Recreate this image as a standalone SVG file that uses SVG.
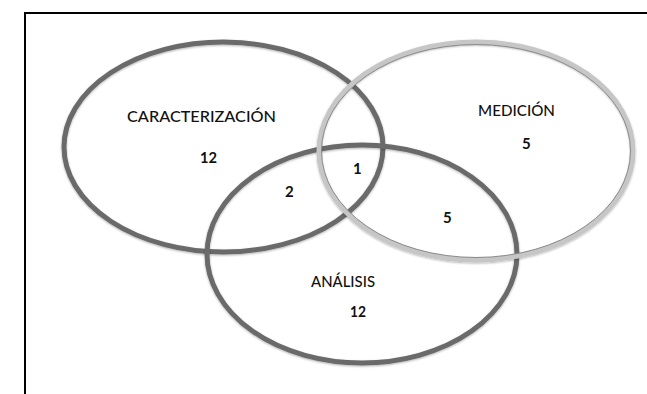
<svg xmlns="http://www.w3.org/2000/svg" width="647" height="394" viewBox="0 0 647 394">
<defs>
<style>
.lbl{font-family:Lato,"Liberation Sans",sans-serif;font-size:15px;font-weight:500;fill:#111;}
.num{font-family:Lato,"Liberation Sans",sans-serif;font-size:15px;font-weight:bold;fill:#111;}
.dark{fill:none;stroke:#6b6b6b;stroke-width:5;}
.light{fill:none;stroke:#c6c6c6;stroke-width:5;}
.lightin{fill:none;stroke:#8a8a8a;stroke-width:1;}
</style>
<filter id="sh" x="-10%" y="-10%" width="120%" height="120%">
<feDropShadow dx="0" dy="1" stdDeviation="1" flood-color="#000" flood-opacity="0.3"/>
</filter>
</defs>
<rect x="0" y="0" width="647" height="394" fill="#fff"/>
<rect x="25" y="13" width="640" height="400" fill="none" stroke="#000" stroke-width="2"/>
<g id="caracterizacion">
<ellipse class="dark" cx="223.5" cy="147" rx="159.5" ry="105" filter="url(#sh)"/>
<text class="lbl" x="127" y="122" textLength="149" lengthAdjust="spacingAndGlyphs">CARACTERIZACIÓN</text>
<text class="num" x="200" y="163" textLength="17" lengthAdjust="spacingAndGlyphs">12</text>
</g>
<g id="analisis">
<ellipse class="dark" cx="362" cy="254" rx="155" ry="109" filter="url(#sh)"/>
<text class="lbl" x="311" y="287" textLength="64" lengthAdjust="spacingAndGlyphs">ANÁLISIS</text>
<text class="num" x="350" y="317" textLength="16" lengthAdjust="spacingAndGlyphs">12</text>
</g>
<g id="medicion">
<ellipse class="light" cx="476" cy="151" rx="157" ry="109" filter="url(#sh)"/>
<ellipse class="lightin" cx="476" cy="151" rx="154.5" ry="106.5"/>
<text class="lbl" x="478" y="116" textLength="77" lengthAdjust="spacingAndGlyphs">MEDICIÓN</text>
<text class="num" x="522" y="149">5</text>
</g>
<g id="intersections">
<text class="num" x="285" y="197">2</text>
<text class="num" x="353" y="174">1</text>
<text class="num" x="443" y="223">5</text>
</g>
</svg>
